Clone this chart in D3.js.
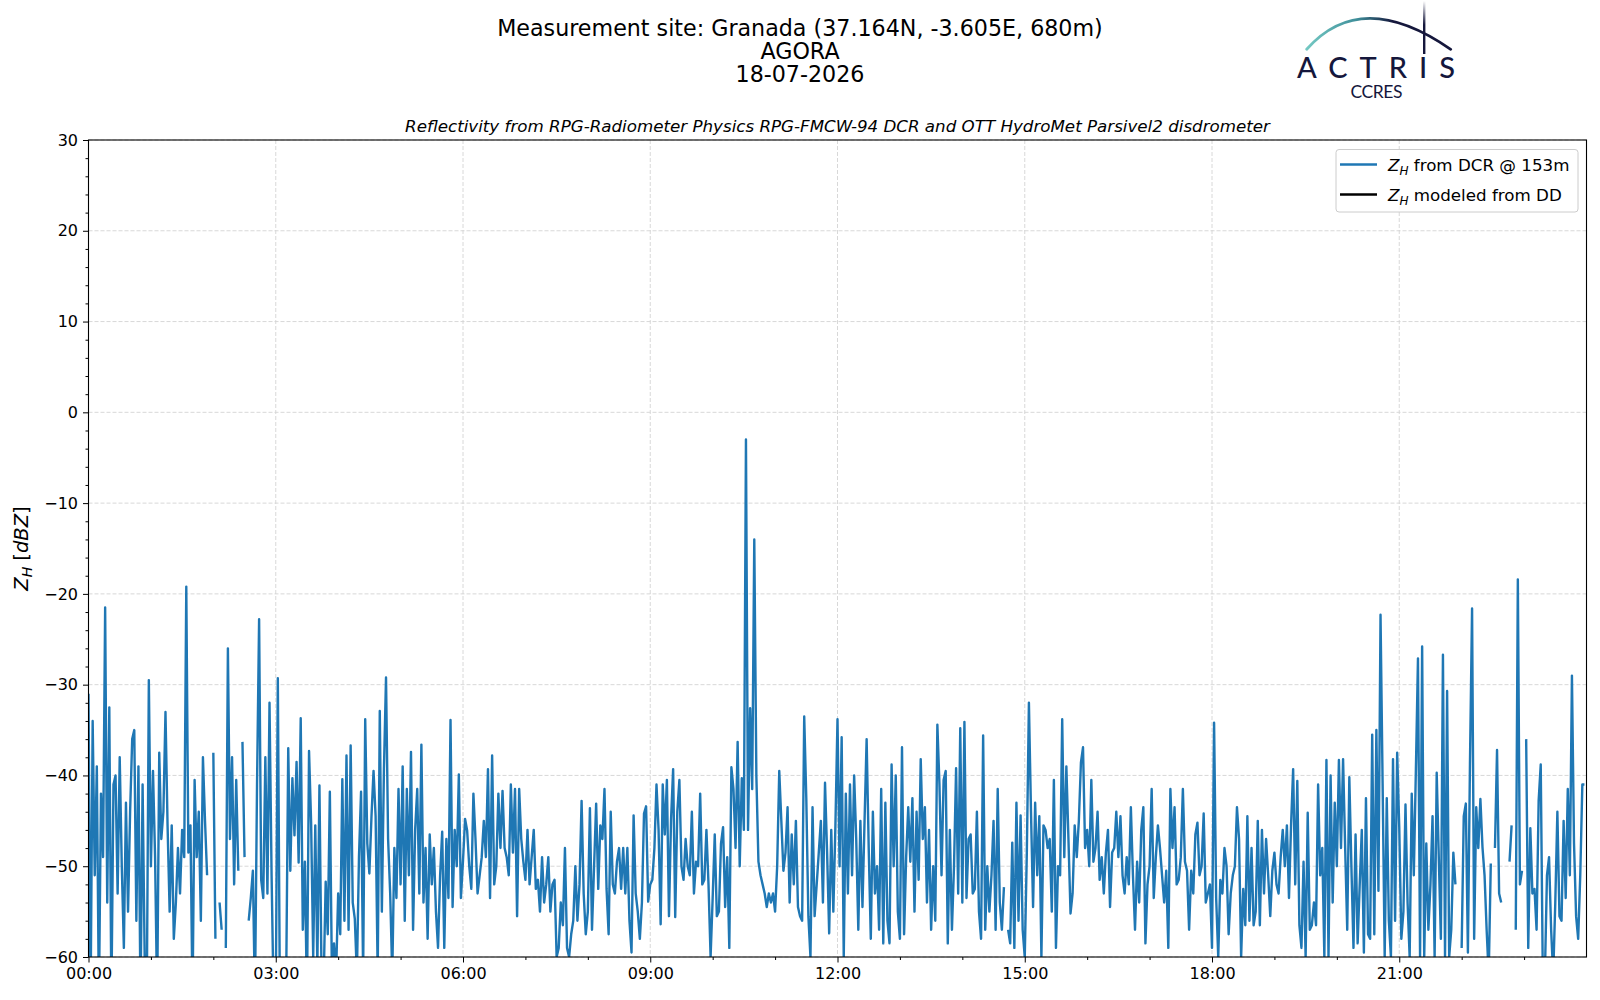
<!DOCTYPE html>
<html lang="en">
<head>
<meta charset="UTF-8">
<title>Reflectivity - Granada 18-07-2026</title>
<script src="https://d3js.org/d3.v7.min.js"></script>
<style>
  body { margin: 0; background: #fff; }
  svg { display: block; font-family: "DejaVu Sans", sans-serif; }
  .grid line { stroke: #d4d4d4; stroke-width: 0.9; stroke-dasharray: 4,2; }
  .axis line { stroke: #000; stroke-width: 1; }
  .axis text { font-family: "DejaVu Sans", sans-serif; font-size: 16px; fill: #000; }
</style>
</head>
<body>
<svg id="chart" width="1600" height="1000"></svg>
<script>
// Z_H from the DCR at 153 m, one value every 2 minutes, in 3-hour blocks (null = no data)
var zh00 = [-31,-65,-34,-51,-39,-65,-42,-49,-21.5,-54,-32.5,-65,-41,-40,-53,-38,-50,-59,-43,-55,
  -44,-36,-35,-56,-39,-65,-41,-60,-65,-29.5,-50,-39.5,-49,-65,-37.5,-47,-44,-33,-45.5,-55,
  -45.5,-58,-54,-48,-53,-46,-49,-19.2,-48.5,-45.5,-65,-40.5,-49,-44,-56,-38,-45,-51,null,null,
  -37.5,-58,null,-54,-57,null,-59,-26,-47,-38,-52,-40.5,-50.5,null,-36.3,-49,null,-56,-53.5,-50.5,
  -65,-41,-22.8,-51.5,-53.5,-38,-53,-32,-51,-65];
var zh03 = [-65,-29.3,-65,-62,-64,-63,-37,-50.5,-40.3,-46.6,-38.5,-49.6,-33.7,-57,-49.5,-65,-37.3,-45.2,-60,-45.5,
  -61,-41.1,-62,-63,-51.7,-57.5,-41.8,-62,-58.5,-62,-53,-57.5,-40.4,-56,-37.8,-57,-36.7,-54,-55.8,-62,
  -49,-41.8,-62,-33.8,-47.5,-50.8,-44.6,-39.5,-44.5,-62,-32.9,-55,-39.3,-29.2,-47,-53,-62,-48,-53.5,-41.5,
  -52,-39,-56,-41.5,-51,-37.4,-57,-46,-41.5,-53,-36.6,-54,-48,-58,-46.5,-52,-48,-55,-59,-51,
  -46.2,-59,-47,-53.5,-33.9,-54.5,-46,-50,-39.9,-53.5];
var zh06 = [-49.4,-44.8,-46.1,-50,-52.5,-42,-47,-53,-51,-49,-45,-49,-39.3,-53.5,-37.8,-52,-50,-42,-48,-41.7,
  -48,-49,-51,-41,-48.5,-41.5,-55.5,-41.5,-47,-49.5,-51.5,-46,-52,-49,-46,-52.5,-51.5,-55,-49,-54,
  -52,-49,-55,-52,-51.5,-60,-59,-54,-56.5,-48,-59,-60,-57.5,-56,-50,-56,-52,-42.8,-53,-57.5,
  -55,-43.6,-57,-50,-43.1,-52.5,-45.5,-47,-41.5,-52.5,-57.5,-44,-52,-53,-49.5,-48,-52.5,-48,-53,-48,
  -56,-59.5,-44.4,-53,-55,-58,-54,-44.2,-43.4,-53.9];
var zh09 = [-52,-51.5,-48,-41,-46,-56.4,-41,-46.5,-40.5,-55.5,-44.8,-39.3,-55.6,-44,-40.5,-50,-51.5,-47,-50,-51,
  -44,-53,-49.5,-50,-42,-52,-51.5,-46,-52,-60,-53.5,-46.5,-55.5,-55,-47.5,-45.7,-54.5,-49,-59,-39.1,
  -41.5,-48,-36.3,-50,-40.3,-46,-3,-46,-32.6,-41.5,-14,-40,-49.5,-51,-52,-53,-54.5,-53,-54,-53,
  -55,-50,-39.5,-45,-50.5,-48.5,-43.5,-54,-46.5,-52,-45,-54.5,-55.5,-56,-33.5,-42.5,-55.5,-60,-43.5,-55.5,
  -52,-48.5,-45,-54,-40.8,-48.5,-57.4,-46,-55,-45.5];
var zh12 = [-33.8,-50,-35.8,-60,-42,-53,-41,-51,-40,-47,-57,-45,-54.5,-45,-36,-48,-58,-44,-53,-50,
  -57,-41.5,-58.5,-43,-56,-58.5,-38.8,-50,-40,-55,-58,-36.9,-57.5,-49,-43.5,-49.5,-42.5,-55,-44,-51.5,
  -38.2,-47,-43.5,-54,-46,-57,-50,-56,-34.4,-41,-51,-40.5,-39.5,-58.5,-46,-57,-50,-39.2,-53,-34.8,
  -54,-34.1,-53.5,-47,-46.5,-53,-52.5,-44,-55,-58,-35.6,-57,-50,-55,-51,-45,-57,-41.5,-54,-57,
  -52.3,null,-57,-58.5,-47.4,-59,-43,-56,-44.4,-57];
var zh15 = [-60,-48.5,-32,-44,-54.5,-43,-51,-44.5,-60,-45.5,-46,-48,-47,-55,-40.5,-59,-50,-51,-33.8,-49,
  -39,-47,-55.2,-53,-45.5,-49,-45,-38.6,-36.9,-48,-46,-50,-40.5,-49.5,-48,-44,-51.5,-49,-53,-48.5,
  -46,-54.5,-48.5,-48,-44,-49,-44.5,-51,-53,-49,-52,-43.5,-51,-57,-49.5,-54,-46,-43.5,-58.5,-52,
  -50,-41.5,-53.5,-49,-45.5,-48,-51,-54,-50.5,-59,-41.5,-48,-43.5,-52,-51.5,-49,-41.5,-49.5,-50.5,-57,
  -50.5,-53,-46.5,-45.2,-51,-50,-44.2,-54,-53,-52];
var zh18 = [-59,-34.2,-53.5,-60,-51.5,-53,-48,-50,-57.5,-53,-51,-50,-43.5,-47,-60,-52.5,-56.5,-44.5,-56,-48,
  -56.5,-55,-45,-56.5,-46,-53,-47,-51,-55.5,-50.5,-48.5,-52,-53,-49,-46,-50,-45.5,-53.5,-45.5,-39.3,
  -52,-40.6,-56.5,-59,-49.5,-60,-44.1,-57,-56.5,-54,-56.5,-41,-51,-48,-60,-38.3,-60,-40,-54,-43,
  -50,-38.3,-48,-38.2,-48,-57,-40.2,-50,-59,-46.5,-58.5,-52,-46,-59.5,-42.5,-57.5,-58,-35.5,-57.5,-35,
  -52.7,-22.3,-40.8,-60,-42.5,-56,-60,-38.2,-56,-37.5];
var zh21 = [-45.7,-58,-55,-43.2,-54,-60,-42,-51,-39.3,-27.1,-60,-25.8,-60,-47.5,-57,-52,-44.5,-60,-39.7,-49,
  -58,-26.7,-60,-30.7,-60,-57,-48.5,-52,null,null,-59,-44.5,-43.1,-59.5,-38.4,-21.6,-58,-43.5,-48,-42.6,
  -47.9,-51,-57,-62,-49.7,null,-48,-37.2,-53,-54,null,null,null,-49.5,-45.5,null,-57,-18.4,-52,-50.5,
  null,-36,-59,-45.8,-53,-52.5,-57,-42.8,-38.8,-62,-62,-51,-49,-57,-62,-54,-44,-55.5,-56,-45,
  -53.5,-41.5,-51,-29,-47.5,-55.5,-58,-51,-41,-41];
// Z_H modeled from the disdrometer: no drops recorded this day
var zhDD = [];

var yTicks = [-60, -50, -40, -30, -20, -10, 0, 10, 20, 30];
var stepMin = 2;
var t0 = Date.UTC(2026, 6, 18);
var t1 = t0 + 864e5;

var plot = { left: 88.5, right: 1586.5, top: 140, bottom: 957 };
var blue = "#1f77b4";

var series = [];
[zh00, zh03, zh06, zh09, zh12, zh15, zh18, zh21].forEach(function(block, k) {
  block.forEach(function(v, i) {
    series.push({ t: new Date(t0 + (k * 180 + i * stepMin) * 60000), v: v });
  });
});

var svg = d3.select("#chart");

var x = d3.scaleUtc().domain([new Date(t0), new Date(t1)]).range([plot.left, plot.right]);
var y = d3.scaleLinear().domain([-60, 30]).range([plot.bottom, plot.top]);

var majorX = d3.utcHour.every(3).range(new Date(t0), new Date(t1));
var minorX = d3.utcHour.range(new Date(t0), new Date(t1)).filter(function(d) { return d.getUTCHours() % 3 !== 0; });
var minorY = d3.range(-60, 31, 2).filter(function(d) { return d % 10 !== 0; });

// grid
var grid = svg.append("g").attr("class", "grid");
grid.selectAll(".gx").data(majorX).enter().append("line")
  .attr("x1", function(d) { return x(d); }).attr("x2", function(d) { return x(d); })
  .attr("y1", plot.top).attr("y2", plot.bottom);
grid.selectAll(".gy").data(yTicks).enter().append("line")
  .attr("x1", plot.left).attr("x2", plot.right)
  .attr("y1", function(d) { return y(d); }).attr("y2", function(d) { return y(d); });

// data line
svg.append("clipPath").attr("id", "clip").append("rect")
  .attr("x", plot.left).attr("y", plot.top)
  .attr("width", plot.right - plot.left).attr("height", plot.bottom - plot.top);

var line = d3.line()
  .defined(function(d) { return d.v !== null; })
  .x(function(d) { return x(d.t); })
  .y(function(d) { return y(d.v); });

svg.append("path").datum(series)
  .attr("clip-path", "url(#clip)")
  .attr("fill", "none").attr("stroke", blue).attr("stroke-width", 2.4)
  .attr("stroke-linejoin", "round")
  .attr("d", line);

// axes
var minus = function(d) { return d < 0 ? "\u2212" + Math.abs(d) : String(d); };

svg.append("g").attr("class", "axis").attr("transform", "translate(0," + plot.bottom + ")")
  .call(d3.axisBottom(x).tickValues(majorX).tickFormat(d3.utcFormat("%H:%M")).tickSize(5.5).tickPadding(5))
  .call(function(g) { g.select(".domain").remove(); });
svg.append("g").attr("class", "axis").attr("transform", "translate(0," + plot.bottom + ")")
  .call(d3.axisBottom(x).tickValues(minorX).tickFormat("").tickSize(3))
  .call(function(g) { g.select(".domain").remove(); });

svg.append("g").attr("class", "axis").attr("transform", "translate(" + plot.left + ",0)")
  .call(d3.axisLeft(y).tickValues(yTicks).tickFormat(minus).tickSize(5.5).tickPadding(5))
  .call(function(g) { g.select(".domain").remove(); });
svg.append("g").attr("class", "axis").attr("transform", "translate(" + plot.left + ",0)")
  .call(d3.axisLeft(y).tickValues(minorY).tickFormat("").tickSize(3))
  .call(function(g) { g.select(".domain").remove(); });

svg.selectAll(".axis").attr("font-family", null).attr("font-size", null);

// frame
svg.append("rect")
  .attr("x", plot.left).attr("y", plot.top)
  .attr("width", plot.right - plot.left).attr("height", plot.bottom - plot.top)
  .attr("fill", "none").attr("stroke", "#000").attr("stroke-width", 1.1);

// y label
var yl = svg.append("text")
  .attr("transform", "translate(28," + ((plot.top + plot.bottom) / 2) + ") rotate(-90)")
  .attr("text-anchor", "middle").attr("font-size", 19.5);
yl.append("tspan").attr("font-style", "italic").text("Z");
yl.append("tspan").attr("font-style", "italic").attr("font-size", 14).attr("dy", 4).text("H");
yl.append("tspan").attr("dy", -4).text(" [");
yl.append("tspan").attr("font-style", "italic").text("dBZ");
yl.append("tspan").text("]");

// titles
var titles = ["Measurement site: Granada (37.164N, -3.605E, 680m)", "AGORA", "18-07-2026"];
svg.selectAll(".title").data(titles).enter().append("text")
  .attr("x", 800).attr("y", function(d, i) { return 36 + i * 23; })
  .attr("text-anchor", "middle").attr("font-size", 22.2).attr("fill", "#000")
  .text(function(d) { return d; });

svg.append("text")
  .attr("x", (plot.left + plot.right) / 2).attr("y", 132)
  .attr("text-anchor", "middle").attr("font-size", 16.7).attr("font-style", "italic")
  .text("Reflectivity from RPG-Radiometer Physics RPG-FMCW-94 DCR and OTT HydroMet Parsivel2 disdrometer");

// legend
var legendItems = [
  { label: " from DCR @ 153m", color: blue },
  { label: " modeled from DD", color: "#000" }
];
var lg = svg.append("g");
lg.append("rect").attr("x", 1336).attr("y", 149.5).attr("width", 242).attr("height", 62.5)
  .attr("rx", 3).attr("fill", "#fff").attr("fill-opacity", 0.8)
  .attr("stroke", "#cccccc").attr("stroke-width", 1);
legendItems.forEach(function(it, i) {
  var cy = 164.5 + i * 30;
  lg.append("line").attr("x1", 1340).attr("x2", 1377).attr("y1", cy).attr("y2", cy)
    .attr("stroke", it.color).attr("stroke-width", 2.4);
  var t = lg.append("text").attr("x", 1388).attr("y", cy + 6).attr("font-size", 16.7);
  t.append("tspan").attr("font-style", "italic").text("Z");
  t.append("tspan").attr("font-style", "italic").attr("font-size", 12).attr("dy", 4).text("H");
  t.append("tspan").attr("dy", -4).text(it.label);
});

// ACTRIS / CCRES logo
var navy = "#15173c";
var defs = svg.append("defs");
var arcGrad = defs.append("linearGradient").attr("id", "arcGrad")
  .attr("gradientUnits", "userSpaceOnUse").attr("x1", 1306).attr("x2", 1451).attr("y1", 0).attr("y2", 0);
arcGrad.append("stop").attr("offset", 0).attr("stop-color", "#74c9c3");
arcGrad.append("stop").attr("offset", 0.35).attr("stop-color", "#3f8f9a");
arcGrad.append("stop").attr("offset", 0.6).attr("stop-color", navy);
arcGrad.append("stop").attr("offset", 1).attr("stop-color", navy);
var poleGrad = defs.append("linearGradient").attr("id", "poleGrad")
  .attr("gradientUnits", "userSpaceOnUse").attr("x1", 0).attr("x2", 0).attr("y1", 1).attr("y2", 54);
poleGrad.append("stop").attr("offset", 0).attr("stop-color", navy).attr("stop-opacity", 0);
poleGrad.append("stop").attr("offset", 0.45).attr("stop-color", navy).attr("stop-opacity", 1);
poleGrad.append("stop").attr("offset", 1).attr("stop-color", navy).attr("stop-opacity", 1);

svg.append("path")
  .attr("d", "M1306.7,49.3 Q1361.3,-12.6 1450.7,49.3")
  .attr("fill", "none").attr("stroke", "url(#arcGrad)").attr("stroke-width", 2.8)
  .attr("stroke-linecap", "round");
svg.append("rect").attr("x", 1423).attr("y", 1).attr("width", 2.4).attr("height", 53)
  .attr("fill", "url(#poleGrad)");
svg.append("text").attr("x", 1297).attr("y", 77.5)
  .attr("font-family", "Lato, 'DejaVu Sans', sans-serif").attr("font-size", 29)
  .attr("font-weight", 500)
  .attr("fill", navy).attr("textLength", 158).attr("lengthAdjust", "spacing")
  .text("ACTRIS");
svg.append("text").attr("x", 1350.5).attr("y", 98.3)
  .attr("font-family", "Lato, 'DejaVu Sans', sans-serif").attr("font-size", 17.5)
  .attr("fill", navy).attr("textLength", 52).attr("lengthAdjust", "spacing")
  .text("CCRES");
</script>
</body>
</html>
